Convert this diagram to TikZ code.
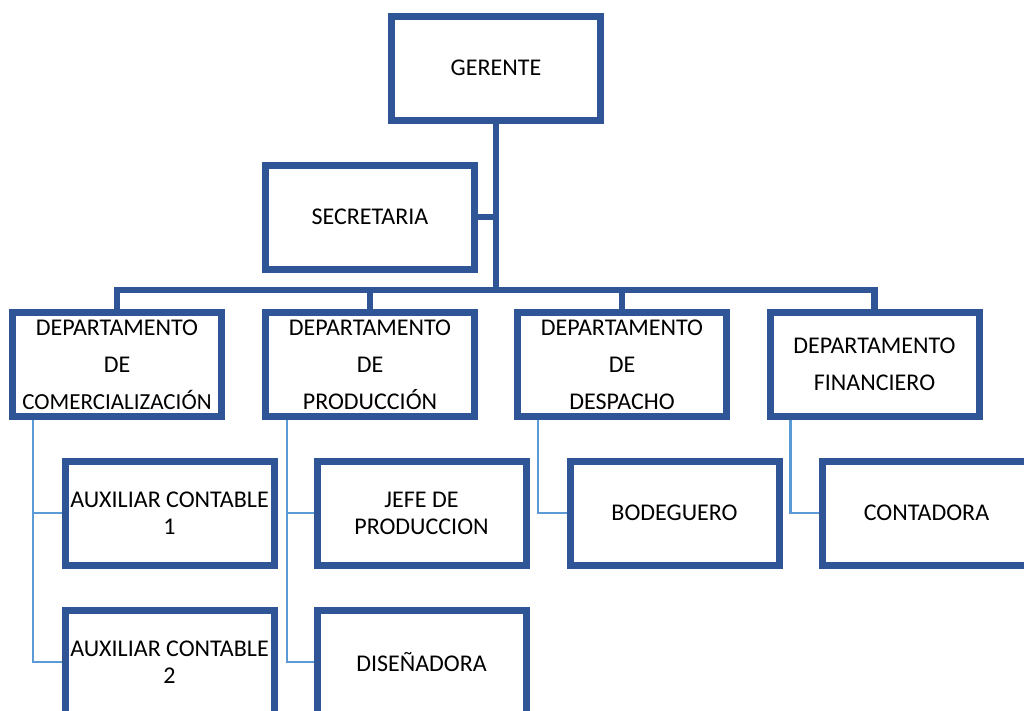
\documentclass[tikz,border=0pt]{standalone}
\usepackage{fontspec}
\setmainfont{Carlito}
\usetikzlibrary{calc}
\definecolor{boxblue}{HTML}{2F5597}
\definecolor{linkblue}{HTML}{5B9BD5}
\begin{document}
\begin{tikzpicture}[x=1pt,y=-1pt,
  unit/.style={draw=boxblue, line width=7pt, fill=white, inner sep=0pt,
    minimum width=209pt, minimum height=104pt, align=center,
    font=\fontsize{24}{27}\selectfont},
  dept/.style={unit, font=\fontsize{24}{37}\selectfont},
  trunk/.style={draw=boxblue, line width=6.5pt},
  branch/.style={draw=linkblue, line width=2.5pt}]
\path[use as bounding box, clip] (0,0) rectangle (1024,710);

% top level
\node[unit] (ger) at (496,68) {GERENTE};
\node[unit] (sec) at (370,217) {SECRETARIA};

% departments
\node[dept] (d1) at (117,364.5) {DEPARTAMENTO\\DE\\{\fontsize{23}{37}\selectfont COMERCIALIZACIÓN}};
\node[dept] (d2) at (370,364.5) {DEPARTAMENTO\\DE\\PRODUCCIÓN};
\node[dept] (d3) at (622,364.5) {DEPARTAMENTO\\DE\\DESPACHO};
\node[dept] (d4) at (874.5,364.5) {DEPARTAMENTO\\FINANCIERO};

% staff
\node[unit] (aux1) at (169.5,513) {AUXILIAR CONTABLE\\1};
\node[unit] (aux2) at (169.5,662) {AUXILIAR CONTABLE\\2};
\node[unit] (jefe) at (421.5,513) {JEFE DE\\PRODUCCION};
\node[unit] (dis)  at (421.5,662) {DISEÑADORA};
\node[unit] (bod)  at (674.5,513) {BODEGUERO};
\node[unit] (cont) at (926.5,513) {CONTADORA};

% main hierarchy
\coordinate (bar) at (496,290);
\draw[trunk] (ger.south) -- (bar);
\draw[trunk] (sec.east) -- (sec.east -| bar);
\draw[trunk] (d1.north) |- (bar) -| (d4.north);
\draw[trunk] (d2.north) -- (d2.north |- bar);
\draw[trunk] (d3.north) -- (d3.north |- bar);

% department to staff links
\coordinate (s1) at ($(d1.south west)+(24,0)$);
\coordinate (s2) at ($(d2.south west)+(25,0)$);
\coordinate (s3) at ($(d3.south west)+(24,0)$);
\coordinate (s4) at ($(d4.south west)+(24,0)$);
\draw[branch] (s1) |- (aux2.west);
\draw[branch] (aux1.west) -- (aux1.west -| s1);
\draw[branch] (s2) |- (dis.west);
\draw[branch] (jefe.west) -- (jefe.west -| s2);
\draw[branch] (s3) |- (bod.west);
\draw[branch] (s4) |- (cont.west);
\end{tikzpicture}
\end{document}
